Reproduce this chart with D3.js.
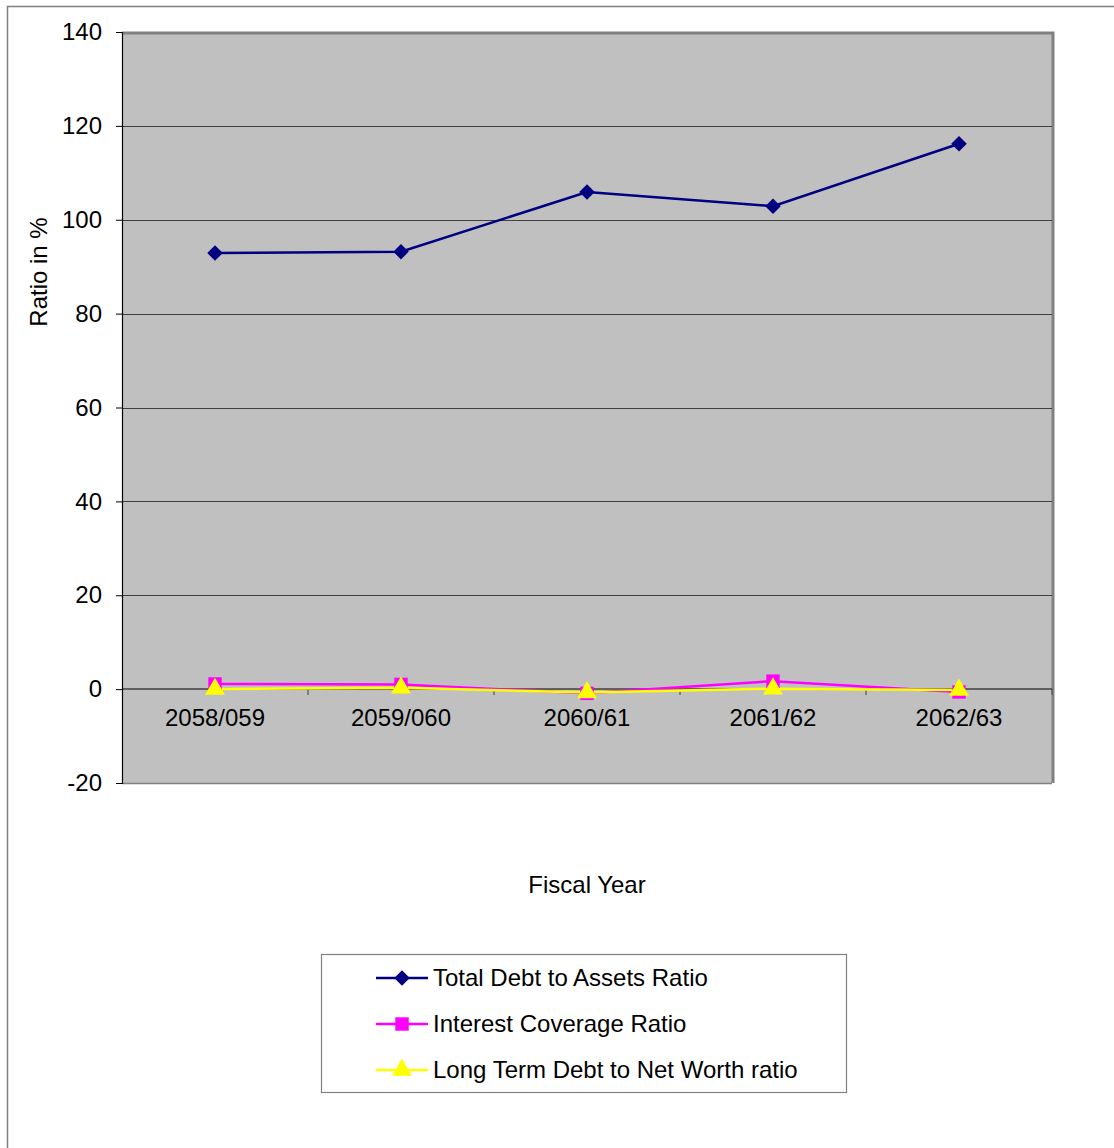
<!DOCTYPE html>
<html>
<head>
<meta charset="utf-8">
<script src="https://d3js.org/d3.v7.min.js"></script>
<style>
  body { margin: 0; background: #fff; }
  text { font-family: "Liberation Sans", Arial, sans-serif; fill: #000; }
</style>
</head>
<body>
<div id="chart"></div>
<script>
var years = ["2058/059", "2059/060", "2060/61", "2061/62", "2062/63"];
var totalDebtToAssets = [92.9, 93.2, 105.9, 102.9, 116.2];
var interestCoverage = [1.1, 1.0, -0.9, 1.7, -0.6];
var longTermDebtToNetWorth = [0.0, 0.3, -0.7, 0.1, -0.2];
var yTicks = [-20, 0, 20, 40, 60, 80, 100, 120, 140];

var series = [
  { name: "Total Debt to Assets Ratio", values: totalDebtToAssets, color: "#000080", symbol: d3.symbolSquare, size: 120, rotate: 45 },
  { name: "Interest Coverage Ratio", values: interestCoverage, color: "#ff00ff", symbol: d3.symbolSquare, size: 180, rotate: 0 },
  { name: "Long Term Debt to Net Worth ratio", values: longTermDebtToNetWorth, color: "#ffff00", symbol: d3.symbolTriangle, size: 170, rotate: 0 }
];

var W = 1114, H = 1148;
var plot = { left: 122, right: 1052, top: 32, bottom: 783 };
var fontSize = "24px";

var svg = d3.select("#chart").append("svg")
  .attr("width", W).attr("height", H);

// outer chart border
svg.append("path")
  .attr("d", "M7.5," + H + " V6.5 H" + W)
  .attr("fill", "none").attr("stroke", "#808080").attr("stroke-width", 1.5);

var x = d3.scaleBand().domain(years).range([plot.left, plot.right]);
var y = d3.scaleLinear().domain([-20, 140]).range([plot.bottom, plot.top]);

// plot area
svg.append("rect")
  .attr("x", plot.left).attr("y", plot.top)
  .attr("width", plot.right - plot.left).attr("height", plot.bottom - plot.top)
  .attr("fill", "#c0c0c0");
svg.append("path")
  .attr("d", "M" + plot.left + "," + (plot.top + 1) + " H" + (plot.right + 1) + " V" + plot.bottom)
  .attr("fill", "none").attr("stroke", "#808080").attr("stroke-width", 3);
svg.append("line")
  .attr("x1", plot.left).attr("x2", plot.right)
  .attr("y1", plot.bottom + 0.5).attr("y2", plot.bottom + 0.5)
  .attr("stroke", "#808080").attr("stroke-width", 1.5);

// gridlines
svg.append("g").selectAll("line")
  .data(yTicks.filter(function (d) { return d !== 0 && d !== -20 && d !== 140; }))
  .enter().append("line")
  .attr("x1", plot.left).attr("x2", plot.right)
  .attr("y1", function (d) { return Math.round(y(d)) + 0.5; })
  .attr("y2", function (d) { return Math.round(y(d)) + 0.5; })
  .attr("stroke", "#404040").attr("stroke-width", 1);

// y axis
var yAxis = svg.append("g")
  .attr("transform", "translate(" + plot.left + ",0)")
  .call(d3.axisLeft(y).tickValues(yTicks).tickSize(6).tickPadding(14)
    .tickFormat(function (d) { return d < 0 ? "-" + Math.abs(d) : d; }));
yAxis.select(".domain").attr("stroke", "#000").attr("stroke-width", 1.2);
yAxis.selectAll("text").style("font-size", fontSize).attr("fill", "#000")
  .style("font-family", "Liberation Sans, Arial, sans-serif");

// x axis at zero
var xAxisG = svg.append("g").attr("transform", "translate(0," + Math.round(y(0)) + ")");
xAxisG.append("line")
  .attr("x1", plot.left).attr("x2", plot.right)
  .attr("stroke", "#000").attr("stroke-width", 1.2);
xAxisG.selectAll(".tk")
  .data(years).enter().append("line")
  .attr("x1", function (d) { return x(d) + x.bandwidth(); })
  .attr("x2", function (d) { return x(d) + x.bandwidth(); })
  .attr("y1", 0).attr("y2", 6)
  .attr("stroke", "#404040");
xAxisG.selectAll(".lbl")
  .data(years).enter().append("text")
  .attr("x", function (d) { return x(d) + x.bandwidth() / 2; })
  .attr("y", 37)
  .attr("text-anchor", "middle")
  .style("font-size", fontSize)
  .text(function (d) { return d; });

// axis titles
svg.append("text")
  .attr("x", (plot.left + plot.right) / 2).attr("y", 893)
  .attr("text-anchor", "middle").style("font-size", fontSize)
  .text("Fiscal Year");
svg.append("text")
  .attr("transform", "translate(47,272) rotate(-90)")
  .attr("text-anchor", "middle").style("font-size", fontSize)
  .text("Ratio in %");

// lines and markers
var line = d3.line()
  .x(function (d, i) { return x(years[i]) + x.bandwidth() / 2; })
  .y(function (d) { return y(d); });

series.forEach(function (s) {
  svg.append("path")
    .datum(s.values)
    .attr("fill", "none")
    .attr("stroke", s.color)
    .attr("stroke-width", 2.5)
    .attr("d", line);
});
series.forEach(function (s) {
  svg.append("g").selectAll("path")
    .data(s.values).enter().append("path")
    .attr("d", d3.symbol().type(s.symbol).size(s.size))
    .attr("transform", function (d, i) {
      return "translate(" + (x(years[i]) + x.bandwidth() / 2) + "," + y(d) + ") rotate(" + s.rotate + ")";
    })
    .attr("fill", s.color);
});

// legend
var legend = svg.append("g").attr("transform", "translate(321,954)");
legend.append("rect")
  .attr("x", 0.5).attr("y", 0.5).attr("width", 525).attr("height", 138)
  .attr("fill", "#fff").attr("stroke", "#808080").attr("stroke-width", 1.2);
var item = legend.selectAll(".item")
  .data(series).enter().append("g")
  .attr("transform", function (d, i) { return "translate(0," + (24 + i * 46) + ")"; });
item.append("line")
  .attr("x1", 55).attr("x2", 107)
  .attr("stroke", function (d) { return d.color; })
  .attr("stroke-width", 2.5);
item.append("path")
  .attr("d", function (d) { return d3.symbol().type(d.symbol).size(d.size)(); })
  .attr("transform", function (d) { return "translate(81,0) rotate(" + d.rotate + ")"; })
  .attr("fill", function (d) { return d.color; });
item.append("text")
  .attr("x", 112).attr("y", 8)
  .style("font-size", fontSize)
  .text(function (d) { return d.name; });
</script>
</body>
</html>
